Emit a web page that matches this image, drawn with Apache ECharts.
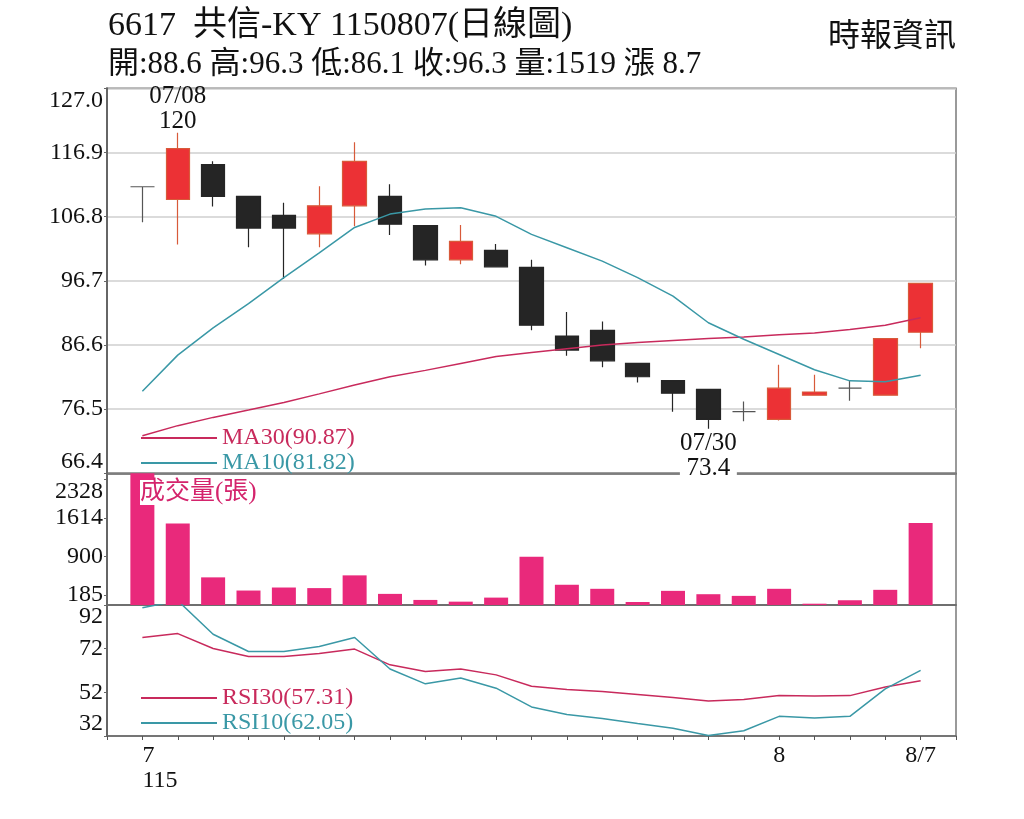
<!DOCTYPE html>
<html><head><meta charset="utf-8">
<script src="https://cdn.jsdelivr.net/npm/echarts@6/dist/echarts.min.js"></script>
<style>html,body{margin:0;padding:0;background:#fff}#c{width:1024px;height:819px}</style>
</head><body><div id="c"></div>
<script>
// ---- data ----
const dates = ['07/07','07/08','07/09','07/10','07/13','07/14','07/15','07/16','07/20','07/21','07/22','07/23','07/24','07/27','07/28','07/29','07/30','07/31','08/03','08/04','08/05','08/06','08/07'];
const tickLabels = ['7\n115','','','','','','','','','','','','','','','','','','8','','','','8/7'];
const opens  = [111.5,109.5,115.0,110.0,107.0,104.1,108.5,110.0,105.4,100.0,101.5,98.8,88.0,88.9,83.7,81.0,79.6,76.1,74.9,78.7,79.8,78.7,88.6];
const closes = [111.5,117.5,110.0,105.0,105.0,108.5,115.5,105.6,100.0,102.9,98.9,89.7,85.8,84.1,81.6,79.0,74.9,76.1,79.8,79.2,79.8,87.6,96.3];
const lows   = [105.9,102.4,108.4,102.0,97.0,102.0,105.3,103.9,99.1,99.3,98.9,88.9,84.9,83.1,80.7,76.1,73.4,74.6,74.7,78.7,77.8,78.7,86.1];
const highs  = [111.5,120.0,115.5,110.0,109.0,111.6,118.5,111.9,105.4,105.5,102.5,100.0,91.8,90.3,83.7,81.0,79.6,77.7,83.5,81.9,81.0,87.6,96.3];
const volumes = [2440,1510,512,268,324,313,549,206,94,62,137,894,375,300,56,262,200,169,300,24,88,281,1519];
const ma10 = [79.3,85.0,89.3,93.1,97.2,101.1,105.1,107.2,108.0,108.2,106.85,104.0,101.9,99.8,97.2,94.3,90.1,87.5,85.1,82.7,80.95,80.8,81.82];
const ma30 = [72.3,73.9,75.2,76.35,77.55,78.9,80.3,81.6,82.6,83.7,84.8,85.4,86.0,86.6,86.97,87.3,87.6,87.85,88.2,88.5,89.05,89.7,90.87];
const rsi30 = [77.1,78.9,72.1,68.45,68.45,69.8,71.8,64.6,61.5,62.7,60.0,54.8,53.3,52.4,51.0,49.6,48.0,48.7,50.5,50.3,50.5,54.4,57.31];
const rsi10 = [90.7,94.0,78.6,70.7,70.7,73.0,77.1,62.7,55.9,58.6,53.9,45.3,41.8,40.0,37.7,35.5,32.2,34.4,41.0,40.3,41.0,53.6,62.05];
const priceTicks = [66.4,76.5,86.6,96.7,106.8,116.9,127.0];
const volTicks = [185,900,1614,2328];
const rsiTicks = [32,52,72,92];
const stockTitle = '6617  共信-KY 1150807(日線圖)';
const source = '時報資訊';

// ---- build ----
const F = "'Liberation Serif','Noto Sans CJK TC',serif";
const RED = '#EC3135', BLACK = '#252525', PINK = '#E9297B', CRIM = '#C82A5C', TEAL = '#3A98A6';
const cats = [''].concat(dates.map((d, i) => i === 0 ? {value: d, textStyle: {align: 'left'}} : d), ['']);
const labs = [''].concat(tickLabels, ['']);
const pad = a => [null].concat(a, [null]);
const kdata = ['-'].concat(dates.map((d,i)=>[opens[i],closes[i],lows[i],highs[i]]), ['-']);
const n = dates.length;
let iMax = 0, iMin = 0;
highs.forEach((v,i)=>{ if (v > highs[iMax]) iMax = i; });
lows.forEach((v,i)=>{ if (v < lows[iMin]) iMin = i; });
const chg = closes[n-1] - closes[n-2];
const info = '開:' + opens[n-1].toFixed(1) + ' 高:' + highs[n-1].toFixed(1) + ' 低:' + lows[n-1].toFixed(1) +
  ' 收:' + closes[n-1].toFixed(1) + ' 量:' + volumes[n-1] + ' 漲 ' + chg.toFixed(1);
const lastVal = {MA30: ma30[n-1], MA10: ma10[n-1], RSI30: rsi30[n-1], RSI10: rsi10[n-1]};

const txt = {fontFamily: F, color: '#111', fontSize: 24};
const gridTop = [88.3, 473.3, 605];
const gridH = [385, 131.7, 131];

function xAx(i, showLabel) {
  return {
    type: 'category', gridIndex: i, data: cats, boundaryGap: false,
    axisLine: {show: true, lineStyle: {color: '#6a6a6a', width: 1.5}},
    axisTick: {show: showLabel, length: 4, interval: 0, lineStyle: {color: '#555'}},
    axisLabel: showLabel ? Object.assign({}, txt, {interval: 0, margin: 7, lineHeight: 25,
      formatter: (v, idx) => labs[idx]}) : {show: false},
    splitLine: {show: false}
  };
}
function yAx(i, min, max, ticks, fmt, split, minAlign, maxAlign) {
  return {
    type: 'value', gridIndex: i, min: min, max: max, scale: true,
    axisLine: {show: true, lineStyle: {color: '#666', width: 2}},
    axisTick: {show: true, length: 3, customValues: ticks, lineStyle: {color: '#666'}},
    axisLabel: Object.assign({}, txt, {customValues: ticks, margin: 4, formatter: fmt,
      verticalAlignMinLabel: minAlign, verticalAlignMaxLabel: maxAlign}),
    splitLine: {show: split, lineStyle: {color: '#cfcfcf', width: 1.5}}
  };
}

const option = {
  animation: false,
  backgroundColor: '#fff',
  title: [
    {text: stockTitle, left: 108, top: 9, padding: 0, textStyle: {fontFamily: F, fontSize: 34, fontWeight: 'normal', color: '#111'}},
    {text: info, left: 108, top: 49, padding: 0, textStyle: {fontFamily: F, fontSize: 31, fontWeight: 'normal', color: '#111'}},
    {text: source, right: 68, top: 22, padding: 0, textStyle: {fontFamily: F, fontSize: 32, fontWeight: 'normal', color: '#111'}},
    {text: '成交量(張)', left: 140, top: 480, padding: 0, backgroundColor: '#fff', textStyle: {fontFamily: F, fontSize: 25, fontWeight: 'normal', color: '#D4246C'}}
  ],
  legend: [
    {left: 141, top: 426, orient: 'vertical', padding: 0, itemGap: 1, itemWidth: 76, itemHeight: 2, icon: 'rect', selectedMode: false,
     data: [{name: 'MA30', textStyle: {color: CRIM}}, {name: 'MA10', textStyle: {color: TEAL}}],
     formatter: nm => nm + '(' + lastVal[nm].toFixed(2) + ')',
     textStyle: {fontFamily: F, fontSize: 24, lineHeight: 24}},
    {left: 141, top: 686, orient: 'vertical', padding: 0, itemGap: 1, itemWidth: 76, itemHeight: 2, icon: 'rect', selectedMode: false,
     data: [{name: 'RSI30', textStyle: {color: CRIM}}, {name: 'RSI10', textStyle: {color: TEAL}}],
     formatter: nm => nm + '(' + lastVal[nm].toFixed(2) + ')',
     textStyle: {fontFamily: F, fontSize: 24, lineHeight: 24}}
  ],
  grid: [0,1,2].map(i => ({left: 107, right: 68, top: gridTop[i], height: gridH[i], show: true, borderColor: '#7a7a7a', borderWidth: 1.5, backgroundColor: 'transparent'})),
  xAxis: [xAx(0, false), xAx(1, false), xAx(2, true)],
  yAxis: [
    yAx(0, 66.4, 127.0, priceTicks, v => v.toFixed(1), true, 'bottom', 'top'),
    yAx(1, 0, 2440, volTicks, v => String(v), false, 'middle', 'top'),
    yAx(2, 32, 92, rsiTicks, v => String(v), false, 'bottom', 'top')
  ],
  series: [
    {name: 'K', type: 'candlestick', xAxisIndex: 0, yAxisIndex: 0, data: kdata, barWidth: 24,
     itemStyle: {color: RED, color0: BLACK, borderColor: '#D85A3A', borderColor0: BLACK, borderColorDoji: '#555', borderWidth: 1.2},
     markPoint: {
       symbol: 'rect', symbolSize: [1, 1], itemStyle: {color: 'rgba(0,0,0,0)'},
       label: {show: true, fontFamily: F, fontSize: 25, lineHeight: 25, color: '#111'},
       data: [
         {coord: [dates[iMax], highs[iMax]], label: {show: true, position: 'top', distance: -2, formatter: dates[iMax] + '\n' + highs[iMax]}},
         {coord: [dates[iMin], lows[iMin]], label: {show: true, position: 'bottom', distance: 2, backgroundColor: '#fff', formatter: dates[iMin] + '\n' + lows[iMin]}}
       ]
     }},
    {name: 'MA30', type: 'line', xAxisIndex: 0, yAxisIndex: 0, data: pad(ma30), color: CRIM, showSymbol: false, lineStyle: {width: 1.5, color: CRIM}},
    {name: 'MA10', type: 'line', xAxisIndex: 0, yAxisIndex: 0, data: pad(ma10), color: TEAL, showSymbol: false, lineStyle: {width: 1.5, color: TEAL}},
    {name: '成交量', type: 'bar', xAxisIndex: 1, yAxisIndex: 1, data: pad(volumes), barWidth: 24, itemStyle: {color: PINK}},
    {name: 'RSI30', type: 'line', xAxisIndex: 2, yAxisIndex: 2, data: pad(rsi30), color: CRIM, showSymbol: false, lineStyle: {width: 1.5, color: CRIM}},
    {name: 'RSI10', type: 'line', xAxisIndex: 2, yAxisIndex: 2, data: pad(rsi10), color: TEAL, showSymbol: false, lineStyle: {width: 1.5, color: TEAL}}
  ]
};
const chart = echarts.init(document.getElementById('c'), null, {renderer: 'canvas'});
chart.setOption(option);
</script>
</body></html>
